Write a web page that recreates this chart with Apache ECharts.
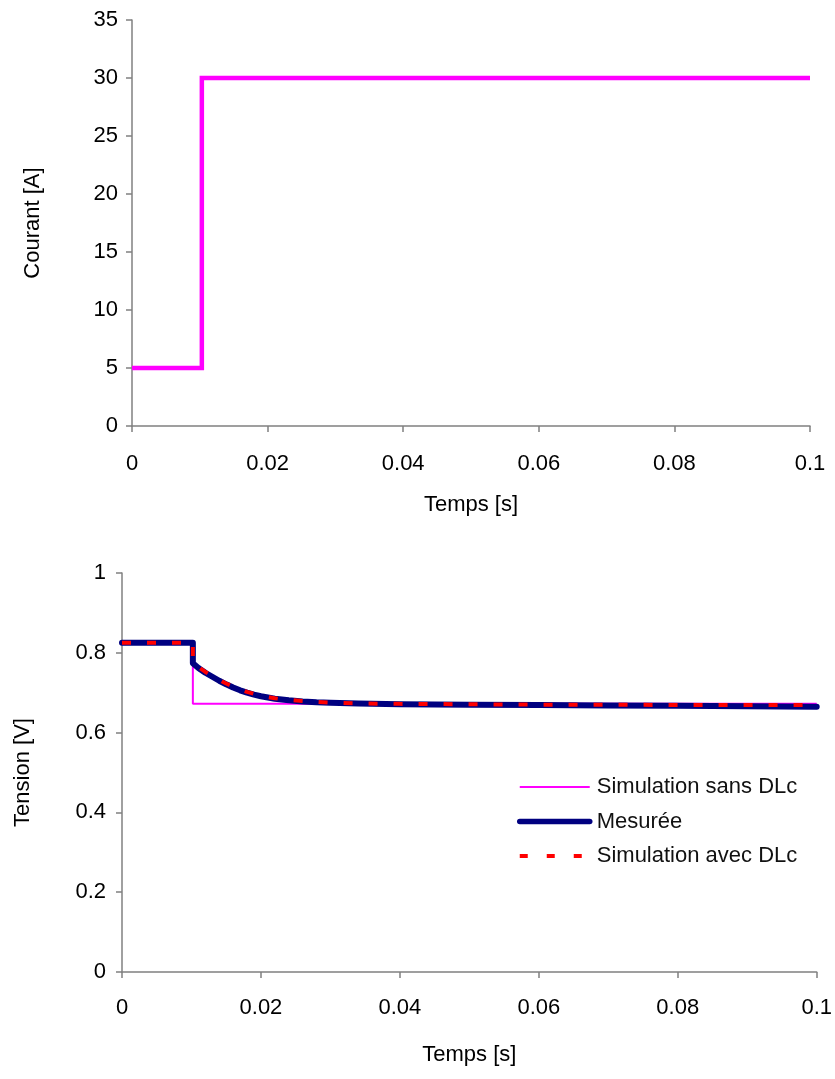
<!DOCTYPE html>
<html>
<head>
<meta charset="utf-8">
<script src="https://cdn.jsdelivr.net/npm/echarts@6/dist/echarts.min.js"></script>
<style>
html,body{margin:0;padding:0;background:#fff;}
#chart{width:835px;height:1079px;}
</style>
</head>
<body>
<div id="chart"></div>
<script>
// Top chart: current step
const courantT = [0, 0.0103, 0.0103, 0.1];
const courantA = [5, 5, 30, 30];

// Bottom chart: voltage
const sansT = [0, 0.0102, 0.0102, 0.1];
const sansV = [0.825, 0.825, 0.672, 0.672];

const mesT = [0, 0.0102, 0.0102, 0.011, 0.012, 0.013, 0.014, 0.015, 0.016, 0.017, 0.018, 0.019, 0.020, 0.022, 0.024, 0.026, 0.028, 0.030, 0.034, 0.040, 0.050, 0.060, 0.070, 0.080, 0.090, 0.100];
const mesV = [0.825, 0.825, 0.774, 0.762, 0.750, 0.740, 0.730, 0.721, 0.713, 0.706, 0.700, 0.695, 0.691, 0.685, 0.681, 0.678, 0.676, 0.675, 0.673, 0.671, 0.670, 0.669, 0.668, 0.667, 0.666, 0.665];

const avecT = [0, 0.0102, 0.0102, 0.011, 0.012, 0.013, 0.014, 0.015, 0.016, 0.017, 0.018, 0.019, 0.020, 0.022, 0.024, 0.026, 0.028, 0.030, 0.034, 0.040, 0.050, 0.060, 0.070, 0.080, 0.090, 0.100];
const avecV = [0.825, 0.825, 0.776, 0.764, 0.752, 0.742, 0.732, 0.723, 0.715, 0.708, 0.702, 0.697, 0.692, 0.686, 0.682, 0.679, 0.677, 0.675, 0.673, 0.672, 0.671, 0.670, 0.670, 0.669, 0.669, 0.669];

const legendNames = ['Simulation sans DLc', 'Mesurée', 'Simulation avec DLc'];

function pairs(xs, ys){ return xs.map((x,i)=>[x, ys[i]]); }

const FONT = 'Liberation Sans, Arial, sans-serif';
const FS = 22;
const axisCol = '#808080';
const txt = '#000';

function xAxis(gridIndex, labelMargin, nameGap){
  return {
    type:'value', gridIndex, min:0, max:0.1, interval:0.02,
    name:'Temps [s]', nameLocation:'middle', nameGap,
    nameTextStyle:{fontFamily:FONT, fontSize:FS, color:txt},
    axisLine:{show:true, onZero:false, lineStyle:{color:axisCol, width:1.5}},
    axisTick:{show:true, length:6, inside:false, lineStyle:{color:axisCol, width:1.5}},
    axisLabel:{fontFamily:FONT, fontSize:FS, color:txt, margin:labelMargin,
      formatter:v=>v===0?'0':String(+v.toFixed(2))},
    splitLine:{show:false}
  };
}
function yAxis(gridIndex, min, max, interval, name, nameGap, labelMargin, fmt){
  return {
    type:'value', gridIndex, min, max, interval,
    name, nameLocation:'middle', nameGap,
    nameTextStyle:{fontFamily:FONT, fontSize:FS, color:txt},
    axisLine:{show:true, lineStyle:{color:axisCol, width:1.5}},
    axisTick:{show:true, length:6, inside:false, lineStyle:{color:axisCol, width:1.5}},
    axisLabel:{fontFamily:FONT, fontSize:FS, color:txt, margin:labelMargin, formatter:fmt},
    splitLine:{show:false}
  };
}

const chart = echarts.init(document.getElementById('chart'), null, {renderer:'canvas'});
chart.setOption({
  backgroundColor:'#fff',
  animation:false,
  grid:[
    {left:132, top:20, right:25, bottom:653},
    {left:122, top:573, right:17, bottom:107}
  ],
  xAxis:[ xAxis(0, 27, 68), xAxis(1, 25, 72) ],
  yAxis:[
    yAxis(0, 0, 35, 5, 'Courant [A]', 88, 14, v=>String(v)),
    yAxis(1, 0, 1, 0.2, 'Tension [V]', 88, 16, v=>v===0?'0':(v===1?'1':String(+v.toFixed(1))))
  ],
  legend:{
    orient:'vertical', left:512, top:771,
    itemWidth:70, itemHeight:10, itemGap:12.5,
    itemStyle:{opacity:0},
    textStyle:{fontFamily:FONT, fontSize:FS, color:'#111', padding:[0,0,0,2]},
    data:[
      {name:legendNames[0], lineStyle:{color:'#ff00ff', width:2}},
      {name:legendNames[1], lineStyle:{color:'#000080', width:5.5, cap:'round'}},
      {name:legendNames[2], lineStyle:{color:'#ff0000', width:4, type:[8,19]}}
    ]
  },
  series:[
    {name:'Courant', type:'line', xAxisIndex:0, yAxisIndex:0, data:pairs(courantT, courantA),
      showSymbol:false, symbol:'none', lineStyle:{color:'#ff00ff', width:4.5, join:'miter'}, itemStyle:{color:'#ff00ff'}},
    {name:legendNames[0], type:'line', xAxisIndex:1, yAxisIndex:1, data:pairs(sansT, sansV),
      symbol:'none', lineStyle:{color:'#ff00ff', width:2}, itemStyle:{color:'#ff00ff'}, z:2},
    {name:legendNames[1], type:'line', xAxisIndex:1, yAxisIndex:1, data:pairs(mesT, mesV),
      symbol:'none', lineStyle:{color:'#000080', width:6, cap:'round', join:'round'}, itemStyle:{color:'#000080'}, z:3},
    {name:legendNames[2], type:'line', xAxisIndex:1, yAxisIndex:1, data:pairs(avecT, avecV),
      symbol:'none', lineStyle:{color:'#ff0000', width:4, type:[9,16]}, itemStyle:{color:'#ff0000'}, z:4}
  ]
});
</script>
</body>
</html>
